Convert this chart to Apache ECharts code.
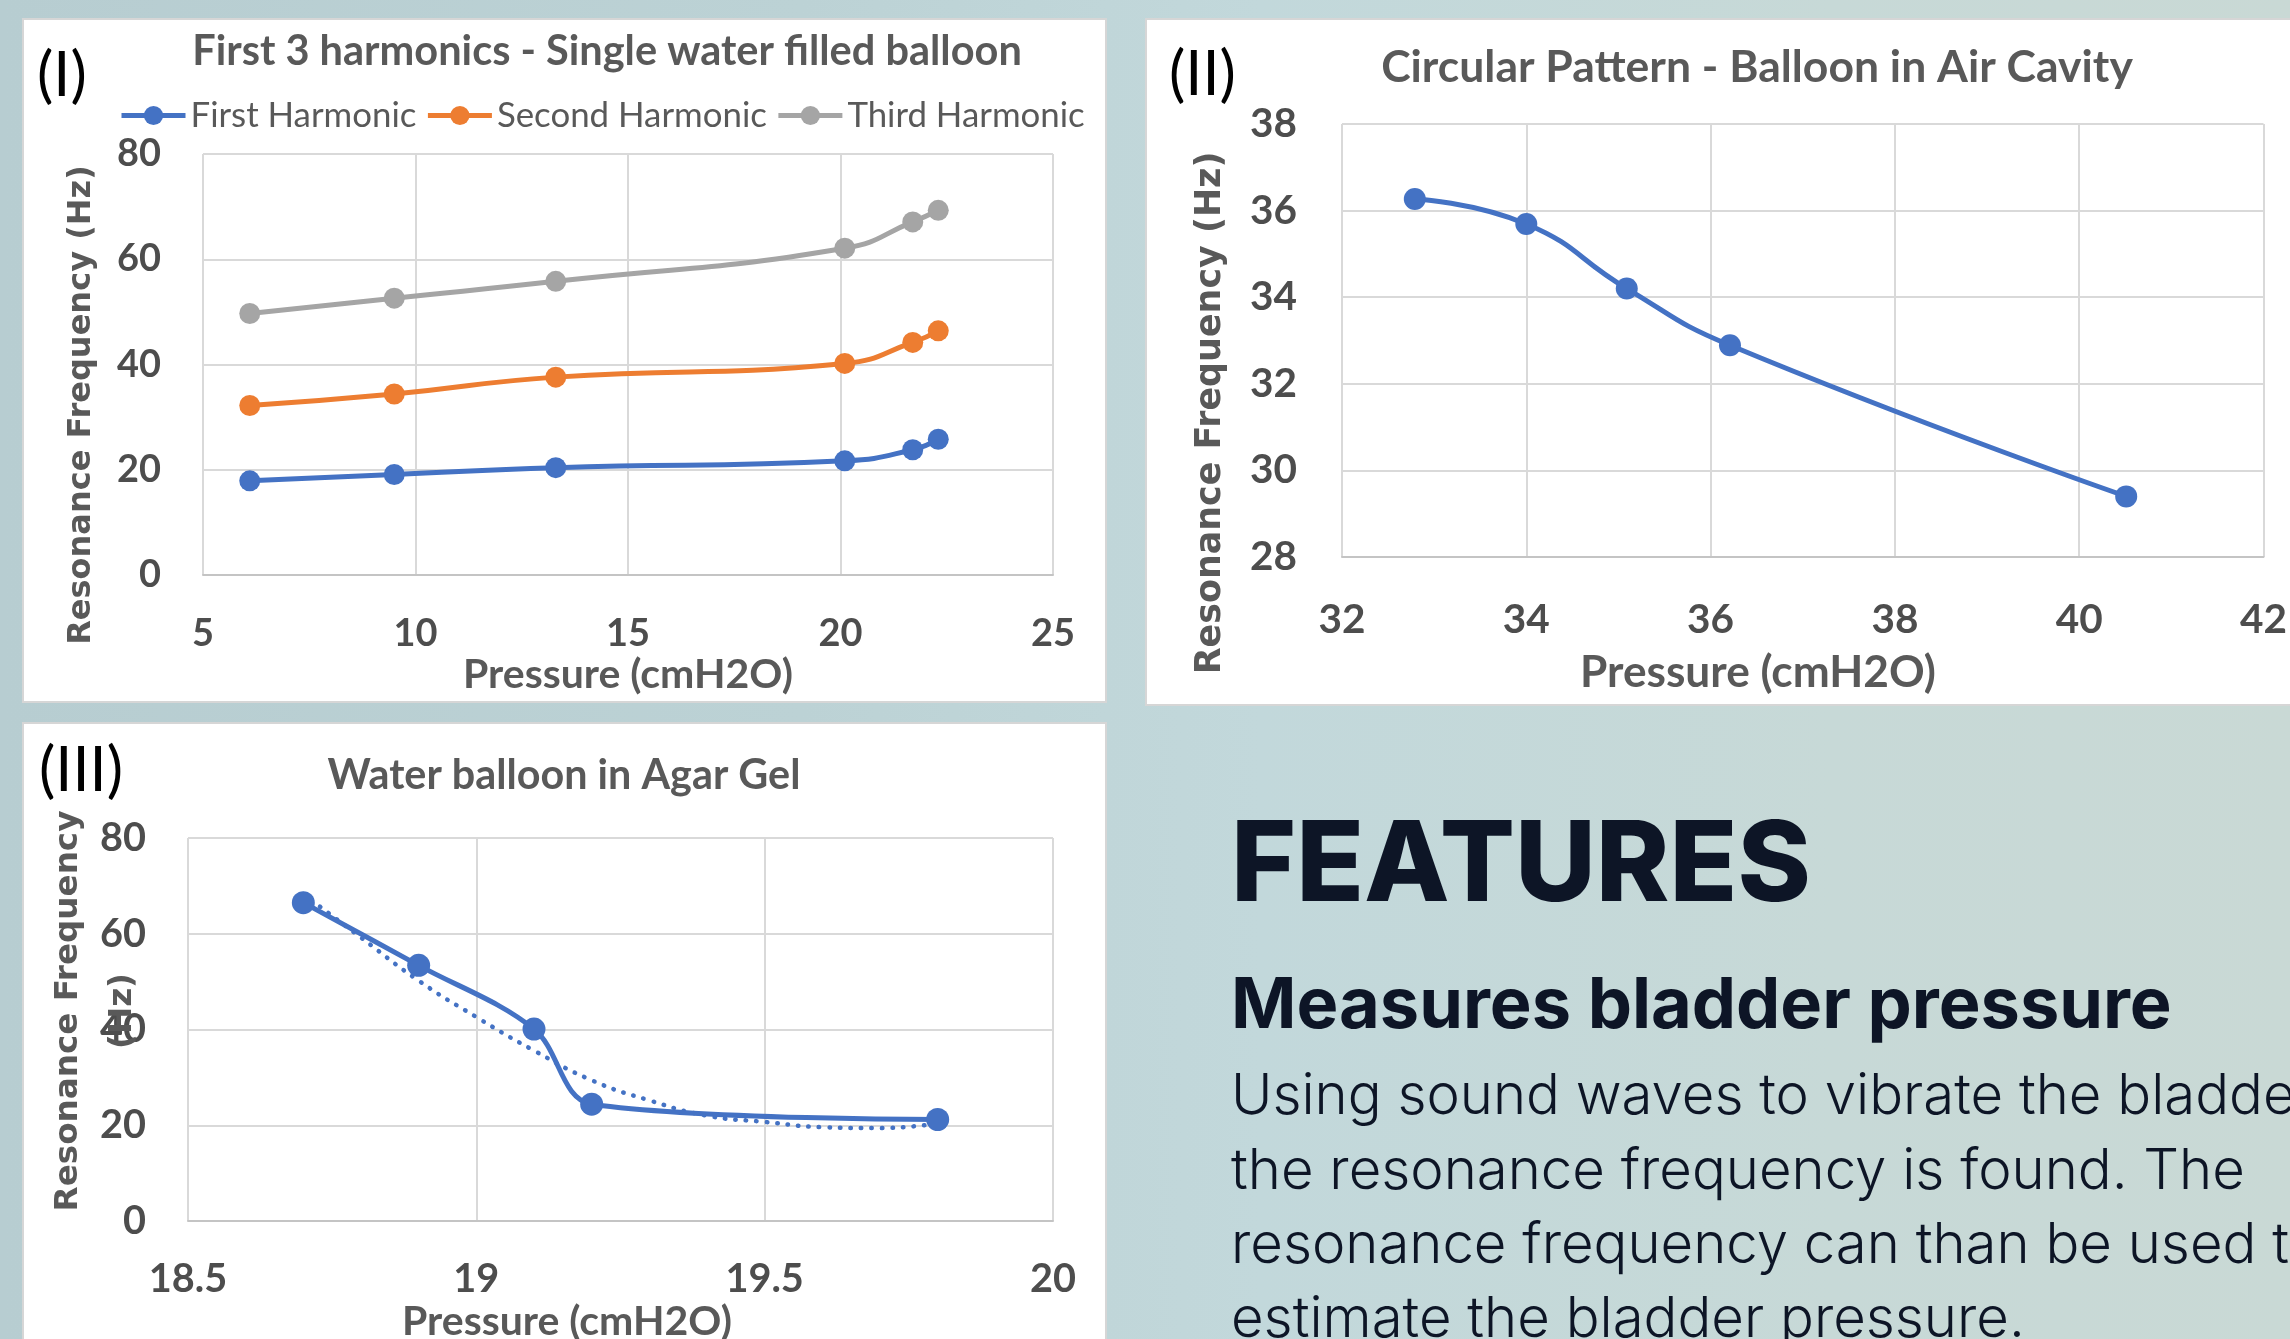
<!DOCTYPE html>
<html>
<head>
<meta charset="utf-8">
<script src="https://cdn.jsdelivr.net/npm/echarts@6/dist/echarts.min.js"></script>
<style>
html,body{margin:0;padding:0;width:2290px;height:1339px;overflow:hidden;}
body{background:linear-gradient(90deg,#b7cdd1 0%,#bcd2d5 35%,#c2d8db 55%,#c7d9d7 80%,#c9d9d5 100%);}
.panel{position:absolute;background:#fff;border:2px solid #d6d6d6;box-sizing:border-box;}
#c{position:absolute;left:0;top:0;width:2290px;height:1339px;}
</style>
</head>
<body>
<div class="panel" style="left:22px;top:18px;width:1085px;height:685px;"></div>
<div class="panel" style="left:1145px;top:18px;width:1160px;height:688px;"></div>
<div class="panel" style="left:22px;top:722px;width:1085px;height:640px;"></div>
<div id="c"></div>
<script>
// ---------- Panel I : First 3 harmonics ----------
const harmonicPressure = [6.1, 9.5, 13.3, 20.1, 21.7, 22.3];
const firstHarmonic    = [17.9, 19.1, 20.4, 21.7, 23.8, 25.8];
const secondHarmonic   = [32.2, 34.4, 37.6, 40.2, 44.2, 46.4];
const thirdHarmonic    = [49.7, 52.6, 55.8, 62.1, 67.1, 69.3];
const xTicksI = [5, 10, 15, 20, 25];
const yTicksI = [0, 20, 40, 60, 80];

// ---------- Panel II : Balloon in air cavity ----------
const airPressure  = [32.79, 34.0, 35.09, 36.21, 40.51];
const airFrequency = [36.27, 35.69, 34.2, 32.89, 29.4];
const xTicksII = [32, 34, 36, 38, 40, 42];
const yTicksII = [28, 30, 32, 34, 36, 38];

// ---------- Panel III : Water balloon in agar gel ----------
const agarPressure  = [18.7, 18.9, 19.1, 19.2, 19.8];
const agarFrequency = [66.5, 53.4, 40.1, 24.4, 21.2];
const agarTrendPressure  = [18.7, 18.8, 18.9, 19.0, 19.1, 19.2, 19.3, 19.4, 19.5, 19.6, 19.7, 19.8];
const agarTrendFrequency = [68.3, 59.2, 50.2, 42.6, 35.6, 29.4, 25.2, 22.0, 20.7, 19.6, 19.4, 20.4];
const xTicksIII = [18.5, 19, 19.5, 20];
const yTicksIII = [0, 20, 40, 60, 80];

const legendNames = ['First Harmonic', 'Second Harmonic', 'Third Harmonic'];

// ---------- helpers ----------
const mc = document.createElement('canvas').getContext('2d');
function fitSize(text, weight, family, target) {
  mc.font = weight + ' 100px ' + family;
  return 100 * target / mc.measureText(text).width;
}
function zip(a, b) { return a.map((v, i) => [v, b[i]]); }

const CF = 'Lato';
const GREY = '#595959';
const TICK = '#4d4d4d';
const BLUE = '#4472C4', ORANGE = '#ED7D31', GRAY = '#A5A5A5';

function xAxis(gi, ticks, fs, margin) {
  return {
    type: 'value', gridIndex: gi,
    min: ticks[0], max: ticks[ticks.length - 1], interval: ticks[1] - ticks[0],
    axisLine: { show: true, onZero: false, lineStyle: { color: '#c4c4c4', width: 2 } },
    axisTick: { show: false },
    splitLine: { show: true, lineStyle: { color: '#d9d9d9', width: 2 } },
    axisLabel: { fontFamily: CF, fontWeight: 'bold', fontSize: fs, color: TICK, margin: margin }
  };
}
function yAxis(gi, ticks, fs, margin) {
  return {
    type: 'value', gridIndex: gi,
    min: ticks[0], max: ticks[ticks.length - 1], interval: ticks[1] - ticks[0],
    axisLine: { show: false }, axisTick: { show: false },
    splitLine: { show: true, lineStyle: { color: '#d9d9d9', width: 2 } },
    axisLabel: { fontFamily: CF, fontWeight: 'bold', fontSize: fs, color: TICK, margin: margin }
  };
}
function lineSeries(name, gi, xs, ys, color, sym, smooth) {
  return {
    name: name, type: 'line', xAxisIndex: gi, yAxisIndex: gi,
    data: zip(xs, ys), smooth: smooth,
    symbol: 'circle', symbolSize: sym, showSymbol: true,
    itemStyle: { color: color }, lineStyle: { color: color, width: 5 },
    z: 5
  };
}
function txt(x, y, text, size, opts) {
  opts = opts || {};
  return {
    type: 'text', x: x, y: y, rotation: opts.rot || 0, z: 10,
    style: {
      text: text, fontSize: size, fontFamily: opts.family || CF,
      fontWeight: opts.weight || 'bold', fill: opts.color || GREY,
      align: opts.align || 'center', textAlign: opts.align || 'center',
      verticalAlign: 'middle', textVerticalAlign: 'middle'
    }
  };
}

// font sizes fitted to the measured text widths
const tickFsI = fitSize('80', 'bold', CF, 44);
const tickFsII = fitSize('38', 'bold', CF, 47);
const tickFsIII = fitSize('80', 'bold', CF, 46);
const titleFsI = fitSize('First 3 harmonics - Single water filled balloon', 'bold', CF, 830);
const titleFsII = fitSize('Circular Pattern - Balloon in Air Cavity', 'bold', CF, 752);
const titleFsIII = fitSize('Water balloon in Agar Gel', 'bold', CF, 473);
const xtFsI = fitSize('Pressure (cmH2O)', 'bold', CF, 330);
const xtFsII = fitSize('Pressure (cmH2O)', 'bold', CF, 356);
const xtFsIII = fitSize('Pressure (cmH2O)', 'bold', CF, 330);
const YF = "'DejaVu Sans'";
const ytFsI = fitSize('Resonance Frequency (Hz)', 'bold', YF, 480);
const ytFsII = fitSize('Resonance Frequency (Hz)', 'bold', YF, 523);
const ytFsIII = fitSize('Resonance Frequency', 'bold', YF, 401);
const legFs = fitSize('First Harmonic', 'normal', CF, 226);
const romFs = fitSize('(III)', 'normal', CF, 84);
const HF = 'Inter';
const featFs = fitSize('FEATURES', '800', HF, 580);
const measFs = fitSize('Measures bladder pressure', 'bold', HF, 941);
const bodyFs = fitSize('the resonance frequency is found. The', '300', HF, 1014);

const chart = echarts.init(document.getElementById('c'), null, { renderer: 'canvas', width: 2290, height: 1339 });

chart.setOption({
  animation: false,
  backgroundColor: 'transparent',
  grid: [
    { left: 203, top: 154, width: 850, height: 421 },
    { left: 1342, top: 124, width: 923, height: 433 },
    { left: 188, top: 838, width: 865, height: 383 }
  ],
  xAxis: [
    xAxis(0, xTicksI, tickFsI, 40),
    xAxis(1, xTicksII, tickFsII, 42),
    xAxis(2, xTicksIII, tickFsIII, 38)
  ],
  yAxis: [
    yAxis(0, yTicksI, tickFsI, 42),
    yAxis(1, yTicksII, tickFsII, 45),
    yAxis(2, yTicksIII, tickFsIII, 42)
  ],
  legend: {
    data: legendNames, left: 114, top: 93,
    itemWidth: 64, itemHeight: 24, itemGap: 9,
    lineStyle: { width: 5 },
    textStyle: { fontFamily: CF, fontSize: legFs, color: GREY }
  },
  series: [
    lineSeries(legendNames[0], 0, harmonicPressure, firstHarmonic, BLUE, 21, 0.5),
    lineSeries(legendNames[1], 0, harmonicPressure, secondHarmonic, ORANGE, 21, 0.5),
    lineSeries(legendNames[2], 0, harmonicPressure, thirdHarmonic, GRAY, 21, 0.5),
    lineSeries('Air cavity', 1, airPressure, airFrequency, BLUE, 22, 0.5),
    {
      name: 'Trend', type: 'line', xAxisIndex: 2, yAxisIndex: 2,
      data: zip(agarTrendPressure, agarTrendFrequency), smooth: 0.5, symbol: 'none',
      lineStyle: { color: BLUE, width: 4.5, type: [0.5, 10], cap: 'round' }, z: 4
    },
    lineSeries('Agar gel', 2, agarPressure, agarFrequency, BLUE, 23, 0.35)
  ],
  graphic: [
    // roman labels
    txt(37, 76, '(I)', romFs, { align: 'left', weight: 'normal', color: '#000' }),
    txt(1169, 75, '(II)', romFs, { align: 'left', weight: 'normal', color: '#000' }),
    txt(39, 771, '(III)', romFs, { align: 'left', weight: 'normal', color: '#000' }),
    // titles
    txt(607, 52, 'First 3 harmonics - Single water filled balloon', titleFsI),
    txt(1757, 68, 'Circular Pattern - Balloon in Air Cavity', titleFsII),
    txt(564, 776, 'Water balloon in Agar Gel', titleFsIII),
    // x axis titles
    txt(628, 675, 'Pressure (cmH2O)', xtFsI),
    txt(1758, 673, 'Pressure (cmH2O)', xtFsII),
    txt(567, 1322, 'Pressure (cmH2O)', xtFsIII),
    // y axis titles
    txt(82, 405, 'Resonance Frequency (Hz)', ytFsI, { family: YF, rot: Math.PI / 2 }),
    txt(1211, 413, 'Resonance Frequency (Hz)', ytFsII, { family: YF, rot: Math.PI / 2 }),
    txt(69, 1011, 'Resonance Frequency', ytFsIII, { family: YF, rot: Math.PI / 2 }),
    txt(123, 1011, '(Hz)', ytFsIII, { family: YF, rot: Math.PI / 2 }),
    // right side text
    txt(1231, 868, 'FEATURES', featFs, { family: HF, weight: '800', color: '#0d1526', align: 'left' }),
    txt(1231, 1007, 'Measures bladder pressure', measFs, { family: HF, weight: 'bold', color: '#0d1526', align: 'left' }),
    txt(1231, 1097, 'Using sound waves to vibrate the bladder,', bodyFs, { family: HF, weight: '300', color: '#0d1526', align: 'left' }),
    txt(1231, 1172, 'the resonance frequency is found. The', bodyFs, { family: HF, weight: '300', color: '#0d1526', align: 'left' }),
    txt(1231, 1246, 'resonance frequency can than be used to', bodyFs, { family: HF, weight: '300', color: '#0d1526', align: 'left' }),
    txt(1231, 1320, 'estimate the bladder pressure.', bodyFs, { family: HF, weight: '300', color: '#0d1526', align: 'left' })
  ]
});
</script>
</body>
</html>
